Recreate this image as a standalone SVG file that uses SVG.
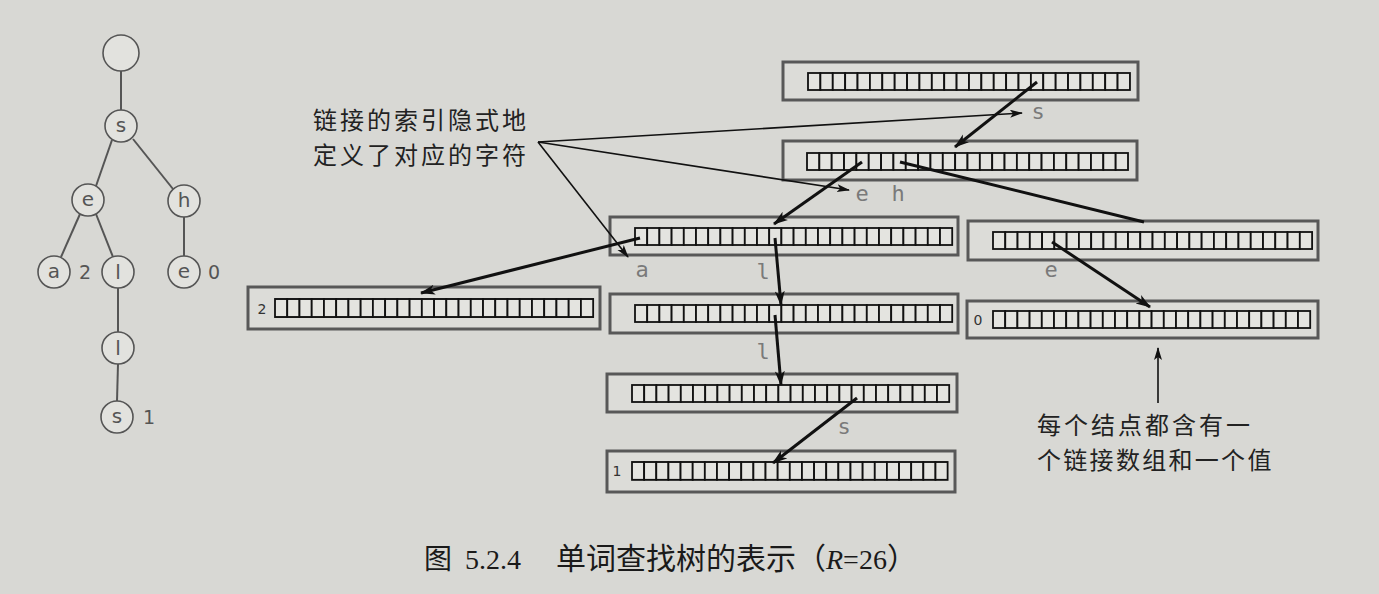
<svg xmlns="http://www.w3.org/2000/svg" xmlns:xlink="http://www.w3.org/1999/xlink" width="1379" height="594" viewBox="0 0 1379 594">
<style>
.bg{fill:#d8d8d4}
.tedge{stroke:#555;stroke-width:2;fill:none}
.tnode{fill:#e2e2de;stroke:#555;stroke-width:1.6}
.tlbl{font-family:"DejaVu Sans",sans-serif;font-size:20px;fill:#555;text-anchor:middle}
.val{font-family:"DejaVu Sans",sans-serif;font-size:19px;fill:#555;text-anchor:middle}
.outer{fill:#dcdcd8;stroke:#585858;stroke-width:3}
.cell{fill:#e4e4e0;stroke:#111;stroke-width:1.8}
.bval{font-family:"DejaVu Sans",sans-serif;font-size:14px;fill:#333;text-anchor:middle}
.link{stroke:#111;stroke-width:3;fill:none}
.ptr{stroke:#111;stroke-width:1.6;fill:none}
.chr{font-family:"DejaVu Sans Mono",monospace;font-size:22px;fill:#7a7a7a;text-anchor:middle}
.note{font-family:"Noto Sans CJK SC",sans-serif;font-size:24px;letter-spacing:3px;fill:#222}
.cap{font-family:"Liberation Serif","Noto Sans CJK SC",serif;fill:#1a1a1a}
</style>
<defs>
<marker id="ah" markerUnits="userSpaceOnUse" markerWidth="16" markerHeight="12" refX="14" refY="5" orient="auto">
<path d="M0,0 L15,5 L0,10 L4,5 Z" fill="#111"/>
</marker>
<marker id="ahs" markerUnits="userSpaceOnUse" markerWidth="14" markerHeight="10" refX="12" refY="4" orient="auto">
<path d="M0,0 L13,4 L0,8 L3,4 Z" fill="#111"/>
</marker>
<g id="cells">
<rect class="cell" x="0" y="0" width="12.2" height="17"/><rect class="cell" x="12.2" y="0" width="12.2" height="17"/><rect class="cell" x="24.4" y="0" width="12.2" height="17"/><rect class="cell" x="36.6" y="0" width="12.2" height="17"/><rect class="cell" x="48.8" y="0" width="12.2" height="17"/><rect class="cell" x="61" y="0" width="12.2" height="17"/><rect class="cell" x="73.2" y="0" width="12.2" height="17"/><rect class="cell" x="85.4" y="0" width="12.2" height="17"/><rect class="cell" x="97.6" y="0" width="12.2" height="17"/><rect class="cell" x="109.8" y="0" width="12.2" height="17"/><rect class="cell" x="122" y="0" width="12.2" height="17"/><rect class="cell" x="134.2" y="0" width="12.2" height="17"/><rect class="cell" x="146.4" y="0" width="12.2" height="17"/><rect class="cell" x="158.6" y="0" width="12.2" height="17"/><rect class="cell" x="170.8" y="0" width="12.2" height="17"/><rect class="cell" x="183" y="0" width="12.2" height="17"/><rect class="cell" x="195.2" y="0" width="12.2" height="17"/><rect class="cell" x="207.4" y="0" width="12.2" height="17"/><rect class="cell" x="219.6" y="0" width="12.2" height="17"/><rect class="cell" x="231.8" y="0" width="12.2" height="17"/><rect class="cell" x="244" y="0" width="12.2" height="17"/><rect class="cell" x="256.2" y="0" width="12.2" height="17"/><rect class="cell" x="268.4" y="0" width="12.2" height="17"/><rect class="cell" x="280.6" y="0" width="12.2" height="17"/><rect class="cell" x="292.8" y="0" width="12.2" height="17"/><rect class="cell" x="305" y="0" width="12.2" height="17"/>
</g>
</defs>
<rect class="bg" x="0" y="0" width="1379" height="594"/>

<!-- small trie on the left -->
<g id="tree-edges">
<line class="tedge" x1="121" y1="71" x2="121" y2="111"/>
<line class="tedge" x1="112" y1="140" x2="96" y2="186"/>
<line class="tedge" x1="133" y1="139" x2="173" y2="189"/>
<line class="tedge" x1="80" y1="214" x2="61" y2="257"/>
<line class="tedge" x1="96" y1="214" x2="113" y2="257"/>
<line class="tedge" x1="184" y1="217" x2="184" y2="256"/>
<line class="tedge" x1="118" y1="288" x2="118" y2="332"/>
<line class="tedge" x1="118" y1="364" x2="117" y2="401"/>
</g>
<g id="t-root"><circle class="tnode" cx="121" cy="53" r="18"/></g>
<g id="t-s"><circle class="tnode" cx="121" cy="126" r="16"/><text class="tlbl" x="121" y="132">s</text></g>
<g id="t-e"><circle class="tnode" cx="88" cy="200" r="16"/><text class="tlbl" x="88" y="206">e</text></g>
<g id="t-h"><circle class="tnode" cx="184" cy="201" r="16"/><text class="tlbl" x="184" y="207">h</text></g>
<g id="t-a"><circle class="tnode" cx="54" cy="272" r="16"/><text class="tlbl" x="54" y="278">a</text><text class="val" x="85" y="279">2</text></g>
<g id="t-l1"><circle class="tnode" cx="118" cy="272" r="16"/><text class="tlbl" x="118" y="279">l</text></g>
<g id="t-e2"><circle class="tnode" cx="184" cy="272" r="16"/><text class="tlbl" x="184" y="278">e</text><text class="val" x="214" y="279">0</text></g>
<g id="t-l2"><circle class="tnode" cx="118" cy="348" r="16"/><text class="tlbl" x="118" y="355">l</text></g>
<g id="t-s2"><circle class="tnode" cx="117" cy="417" r="16"/><text class="tlbl" x="117" y="423">s</text><text class="val" x="149" y="424">1</text></g>

<!-- trie node arrays -->
<g id="n-root"><rect class="outer" x="783" y="62" width="355" height="38"/><use xlink:href="#cells" href="#cells" transform="translate(808,73) scale(1.015,1)"/></g>
<g id="n-s"><rect class="outer" x="783" y="141" width="354" height="39"/><use xlink:href="#cells" href="#cells" transform="translate(807,153) scale(1.012,1)"/></g>
<g id="n-se"><rect class="outer" x="610" y="217" width="348" height="38"/><use xlink:href="#cells" href="#cells" transform="translate(635,228)"/></g>
<g id="n-sh"><rect class="outer" x="968" y="221" width="350" height="39"/><use xlink:href="#cells" href="#cells" transform="translate(993,232) scale(1.006,1)"/></g>
<g id="n-she"><rect class="outer" x="967" y="301" width="351" height="37"/><text class="bval" x="978" y="325">0</text><use xlink:href="#cells" href="#cells" transform="translate(993,311)"/></g>
<g id="n-sea"><rect class="outer" x="248" y="287" width="352" height="42"/><text class="bval" x="262" y="314">2</text><use xlink:href="#cells" href="#cells" transform="translate(275,299) scale(1.003,1.06)"/></g>
<g id="n-sel"><rect class="outer" x="610" y="294" width="348" height="39"/><use xlink:href="#cells" href="#cells" transform="translate(635,305)"/></g>
<g id="n-sell"><rect class="outer" x="607" y="374" width="350" height="38"/><use xlink:href="#cells" href="#cells" transform="translate(632,385)"/></g>
<g id="n-sells"><rect class="outer" x="607" y="451" width="348" height="41"/><text class="bval" x="617" y="476">1</text><use xlink:href="#cells" href="#cells" transform="translate(632,462) scale(0.995,1.05)"/></g>

<!-- links -->
<g id="connectors">
<line class="link" x1="1037" y1="82" x2="955" y2="147" marker-end="url(#ah)"/>
<line class="link" x1="862" y1="162" x2="774" y2="224" marker-end="url(#ah)"/>
<line class="link" x1="900" y1="162" x2="1144" y2="222"/>
<line class="link" x1="640" y1="238" x2="421" y2="293" marker-end="url(#ah)"/>
<line class="link" x1="775" y1="238" x2="781" y2="305" marker-end="url(#ah)"/>
<line class="link" x1="1052" y1="242" x2="1150" y2="307" marker-end="url(#ah)"/>
<line class="link" x1="775" y1="315" x2="781" y2="385" marker-end="url(#ah)"/>
<line class="link" x1="857" y1="398" x2="773" y2="463" marker-end="url(#ah)"/>
<line class="ptr" x1="538" y1="142" x2="1022" y2="113" marker-end="url(#ahs)"/>
<line class="ptr" x1="538" y1="142" x2="849" y2="190" marker-end="url(#ahs)"/>
<line class="ptr" x1="538" y1="142" x2="628" y2="257" marker-end="url(#ahs)"/>
<line class="ptr" x1="1158" y1="403" x2="1158" y2="348" marker-end="url(#ahs)"/>
</g>

<!-- implicit characters -->
<g id="chars">
<text class="chr" x="1038" y="119">s</text>
<text class="chr" x="862" y="201">e</text>
<text class="chr" x="898" y="201">h</text>
<text class="chr" x="642" y="277">a</text>
<text class="chr" x="763" y="279">l</text>
<text class="chr" x="1051" y="277">e</text>
<text class="chr" x="763" y="359">l</text>
<text class="chr" x="844" y="434">s</text>
</g>

<!-- annotations -->
<g id="note-links">
<text class="note" x="313" y="129">链接的索引隐式地</text>
<text class="note" x="313" y="164">定义了对应的字符</text>
</g>
<g id="note-node">
<text class="note" x="1037" y="434">每个结点都含有一</text>
<text class="note" x="1037" y="469" style="letter-spacing:2.3px">个链接数组和一个值</text>
</g>

<!-- caption -->
<text class="cap" y="569"><tspan x="424" font-size="28">图</tspan><tspan x="465" font-size="28">5.2.4</tspan><tspan x="556" font-size="30">单词查找树的表示（</tspan><tspan font-size="28" font-style="italic">R</tspan><tspan font-size="28">=26</tspan><tspan font-size="30">）</tspan></text>
</svg>
